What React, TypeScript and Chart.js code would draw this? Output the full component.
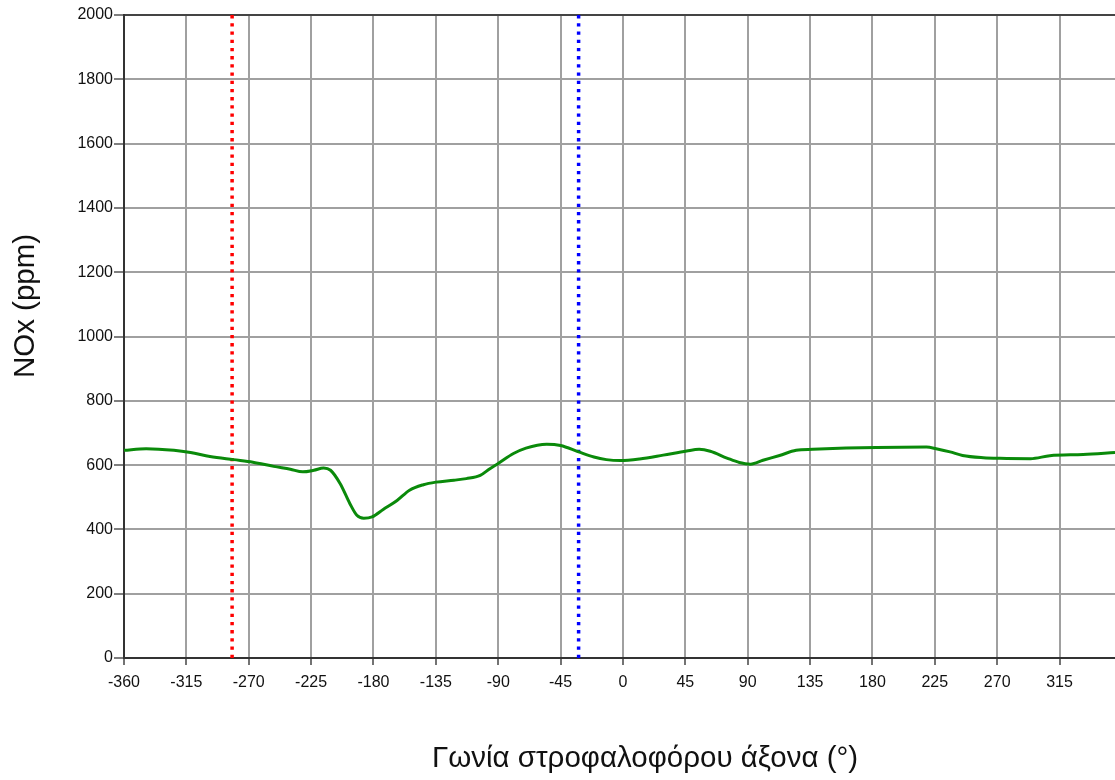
import React, { useEffect, useRef } from "react";
import { Chart, registerables } from "chart.js";

Chart.register(...registerables);

// Crank angle (deg) and NOx concentration (ppm) along the cycle
const crankAngles = [
  -360, -344, -324, -312, -298, -281, -267, -252, -240, -231, -223, -216, -211,
  -204, -197, -192, -187, -181, -173, -163, -154, -144, -135, -122, -113, -103,
  -96, -90, -79, -70, -55, -45, -32, -21, -12, -2, 12, 29, 46, 55, 63, 75, 84,
  92, 101, 113, 125, 137, 161, 183, 219, 226, 236, 245, 260, 272, 294, 308, 332,
  355,
];
const noxPpm = [
  646, 651, 646, 639, 627, 617, 609, 596, 587, 579, 584, 591, 584, 542, 480, 444,
  435, 439, 462, 490, 522, 539, 547, 553, 558, 568, 589, 605, 636, 653, 665, 661,
  641, 625, 617, 614, 619, 631, 644, 649, 643, 622, 608, 603, 615, 630, 646, 649,
  653, 655, 656, 651, 641, 630, 623, 621, 620, 629, 633, 639,
];

// Marker angles drawn as dotted verticals
const redMarkerAngle = -282;
const blueMarkerAngle = -32;

// Axis ticks
const xTickValues = [-360, -315, -270, -225, -180, -135, -90, -45, 0, 45, 90, 135, 180, 225, 270, 315];
const yTickStep = 200;
const yMin = 0;
const yMax = 2000;
const xMin = -360;
const xMax = 355;

const xTitle = "Γωνία στροφαλοφόρου άξονα (°)";
const yTitle = "NOx (ppm)";

const FONT = "'Liberation Sans', Arial, sans-serif";

const axisTitles = {
  id: "axisTitles",
  afterDraw(chart: any) {
    const ctx = chart.ctx;
    ctx.save();
    ctx.fillStyle = "#111";
    ctx.font = `29.5px ${FONT}`;
    ctx.textAlign = "center";
    ctx.textBaseline = "alphabetic";
    ctx.fillText(xTitle, 645, 767);
    ctx.translate(34, 306);
    ctx.rotate(-Math.PI / 2);
    ctx.fillText(yTitle, 0, 0);
    ctx.restore();
  },
};

export default function App() {
  const canvasRef = useRef<HTMLCanvasElement | null>(null);

  useEffect(() => {
    const canvas = canvasRef.current;
    if (!canvas) return;
    const chart = new Chart(canvas, {
      type: "line",
      data: {
        datasets: [
          {
            label: "NOx",
            data: crankAngles.map((a, i) => ({ x: a, y: noxPpm[i] })),
            borderColor: "#0a8a0a",
            borderWidth: 3,
            pointRadius: 0,
            cubicInterpolationMode: "monotone",
            fill: false,
          },
          {
            label: "red",
            data: [
              { x: redMarkerAngle, y: yMin },
              { x: redMarkerAngle, y: yMax },
            ],
            borderColor: "#ff0000",
            borderWidth: 3.5,
            borderDash: [3.3, 4.9],
            pointRadius: 0,
            fill: false,
          },
          {
            label: "blue",
            data: [
              { x: blueMarkerAngle, y: yMin },
              { x: blueMarkerAngle, y: yMax },
            ],
            borderColor: "#0000ff",
            borderWidth: 3.5,
            borderDash: [3.3, 4.9],
            pointRadius: 0,
            fill: false,
          },
        ],
      },
      options: {
        responsive: false,
        animation: false,
        layout: { padding: { top: 15, left: 0, right: 0, bottom: 0 } },
        plugins: { legend: { display: false }, tooltip: { enabled: false } },
        scales: {
          x: {
            type: "linear",
            min: xMin,
            max: xMax,
            afterBuildTicks: (scale: any) => {
              scale.ticks = xTickValues.map((v) => ({ value: v }));
            },
            afterFit: (scale: any) => {
              scale.height = 122;
            },
            grid: {
              color: "#a0a0a0",
              lineWidth: 2,
              tickLength: 7,
              tickColor: "#444",
              tickWidth: 1.5,
            },
            border: { display: true, color: "#333", width: 2 },
            ticks: {
              color: "#111",
              font: { family: FONT, size: 16 },
              padding: 8,
              maxRotation: 0,
              autoSkip: false,
              callback: (v: any) => String(v),
            },
          },
          y: {
            type: "linear",
            min: yMin,
            max: yMax,
            afterFit: (scale: any) => {
              scale.width = 124;
            },
            grid: {
              color: (c: any) => (c.tick && c.tick.value === yMax ? "#444" : "#a0a0a0"),
              lineWidth: 2,
              tickLength: 10,
              tickColor: "#555",
              tickWidth: 1.5,
            },
            border: { display: true, color: "#333", width: 2 },
            ticks: {
              stepSize: yTickStep,
              color: "#111",
              font: { family: FONT, size: 16 },
              padding: 1,
              callback: (v: any) => String(v),
            },
          },
        },
      },
      plugins: [axisTitles],
    } as any);
    return () => chart.destroy();
  }, []);

  return (
    <div style={{ position: "fixed", left: 0, top: 0, width: 1115, height: 780, background: "#fff" }}>
      <canvas ref={canvasRef} width={1115} height={780} />
    </div>
  );
}
